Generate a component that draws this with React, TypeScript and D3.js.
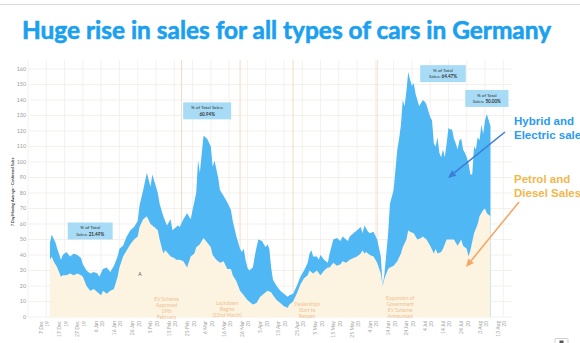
import React from "react";
import * as d3 from "d3";

// Total sales (top of blue stack) – 7 day moving average
const totalDates = [
  "2019-12-09","2019-12-10","2019-12-12","2019-12-13","2019-12-15","2019-12-16","2019-12-18","2019-12-20","2019-12-22","2019-12-24",
  "2019-12-26","2019-12-27","2019-12-29","2019-12-31","2020-01-02","2020-01-04","2020-01-05","2020-01-07","2020-01-09","2020-01-11",
  "2020-01-13","2020-01-15","2020-01-16","2020-01-18","2020-01-20","2020-01-22","2020-01-24","2020-01-26","2020-01-27","2020-01-29",
  "2020-01-31","2020-02-02","2020-02-03","2020-02-06","2020-02-07","2020-02-09","2020-02-11","2020-02-13","2020-02-14","2020-02-17",
  "2020-02-18","2020-02-20","2020-02-22","2020-02-24","2020-02-25","2020-02-27","2020-02-28","2020-02-29","2020-03-02","2020-03-04",
  "2020-03-06","2020-03-07","2020-03-08","2020-03-10","2020-03-11","2020-03-13","2020-03-15","2020-03-17","2020-03-18","2020-03-20",
  "2020-03-22","2020-03-23","2020-03-24","2020-03-25","2020-03-26","2020-03-27","2020-03-28","2020-03-29","2020-03-30","2020-03-31",
  "2020-04-01","2020-04-03","2020-04-04","2020-04-05","2020-04-06","2020-04-07","2020-04-08","2020-04-09","2020-04-11","2020-04-13",
  "2020-04-15","2020-04-17","2020-04-18","2020-04-20","2020-04-22","2020-04-24","2020-04-26","2020-04-28","2020-04-29","2020-04-30",
  "2020-05-01","2020-05-03","2020-05-04","2020-05-05","2020-05-07","2020-05-09","2020-05-10","2020-05-12","2020-05-14","2020-05-16",
  "2020-05-17","2020-05-20","2020-05-21","2020-05-23","2020-05-25","2020-05-27","2020-05-28","2020-05-29","2020-05-31","2020-06-01",
  "2020-06-03","2020-06-05","2020-06-07","2020-06-08","2020-06-09","2020-06-11","2020-06-12","2020-06-14","2020-06-16","2020-06-17",
  "2020-06-18","2020-06-19","2020-06-20","2020-06-21","2020-06-22","2020-06-23","2020-06-24","2020-06-25","2020-06-26","2020-06-27",
  "2020-06-28","2020-06-29","2020-06-30","2020-07-01","2020-07-02","2020-07-04","2020-07-05","2020-07-06","2020-07-07","2020-07-08",
  "2020-07-09","2020-07-10","2020-07-11","2020-07-12","2020-07-13","2020-07-14","2020-07-15","2020-07-16","2020-07-17","2020-07-18",
  "2020-07-19","2020-07-20","2020-07-21","2020-07-22","2020-07-23","2020-07-24","2020-07-25","2020-07-26","2020-07-27","2020-07-28",
  "2020-07-29","2020-07-30","2020-07-31","2020-08-01","2020-08-02","2020-08-03","2020-08-04","2020-08-05","2020-08-06"
];
const totalValues = [
  48,53,48,44,37,40,42,39,41,40,
  38,34,30,28,29,28,26,31,32,29,
  33,39,44,46,52,56,58,62,72,82,
  93,84,92,80,73,65,59,63,56,59,
  58,63,67,63,69,80,101,93,117,115,
  110,97,101,90,82,78,74,69,62,52,
  44,42,44,37,32,30,31,32,39,45,
  50,49,47,45,47,44,32,24,20,17,
  15,13,14,15,20,26,30,35,41,43,
  39,39,37,40,37,35,41,50,51,49,
  52,49,52,54,56,58,54,59,55,54,
  55,50,39,20,28,54,73,82,108,115,
  124,140,136,146,158,153,149,151,144,140,
  136,138,140,139,137,129,127,112,110,116,
  106,103,108,103,112,122,121,121,115,112,
  108,114,115,108,106,103,99,92,92,110,
  108,116,114,124,118,127,131,127,123
];

// Petrol and diesel sales (tan area)
const petrolDates = [
  "2019-12-09","2019-12-10","2019-12-11","2019-12-13","2019-12-15","2019-12-16","2019-12-18","2019-12-20","2019-12-22","2019-12-24",
  "2019-12-26","2019-12-27","2019-12-29","2019-12-31","2020-01-02","2020-01-04","2020-01-06","2020-01-07","2020-01-09","2020-01-11",
  "2020-01-13","2020-01-15","2020-01-16","2020-01-18","2020-01-20","2020-01-22","2020-01-24","2020-01-26","2020-01-27","2020-01-29",
  "2020-01-31","2020-02-02","2020-02-04","2020-02-06","2020-02-07","2020-02-09","2020-02-10","2020-02-11","2020-02-13","2020-02-15",
  "2020-02-16","2020-02-18","2020-02-20","2020-02-22","2020-02-24","2020-02-26","2020-02-27","2020-02-29","2020-03-02","2020-03-04",
  "2020-03-06","2020-03-07","2020-03-09","2020-03-11","2020-03-13","2020-03-15","2020-03-17","2020-03-18","2020-03-20","2020-03-22",
  "2020-03-24","2020-03-26","2020-03-28","2020-03-29","2020-03-31","2020-04-02","2020-04-04","2020-04-06","2020-04-08","2020-04-09",
  "2020-04-11","2020-04-13","2020-04-15","2020-04-17","2020-04-18","2020-04-20","2020-04-22","2020-04-24","2020-04-26","2020-04-28",
  "2020-04-29","2020-05-01","2020-05-03","2020-05-05","2020-05-07","2020-05-09","2020-05-10","2020-05-12","2020-05-14","2020-05-16",
  "2020-05-17","2020-05-19","2020-05-21","2020-05-23","2020-05-25","2020-05-27","2020-05-28","2020-05-29","2020-05-30","2020-06-01",
  "2020-06-03","2020-06-05","2020-06-07","2020-06-08","2020-06-09","2020-06-11","2020-06-12","2020-06-14","2020-06-16","2020-06-18",
  "2020-06-19","2020-06-21","2020-06-22","2020-06-23","2020-06-25","2020-06-27","2020-06-29","2020-06-30","2020-07-02","2020-07-04",
  "2020-07-06","2020-07-07","2020-07-08","2020-07-10","2020-07-11","2020-07-13","2020-07-15","2020-07-17","2020-07-19","2020-07-21",
  "2020-07-22","2020-07-24","2020-07-25","2020-07-26","2020-07-28","2020-07-30","2020-07-31","2020-08-02","2020-08-03","2020-08-04",
  "2020-08-06"
];
const petrolValues = [
  37,39,36,32,26,27,27,28,27,28,
  27,26,20,17,18,16,14,17,15,17,
  18,26,32,39,43,47,50,52,58,63,
  65,60,58,56,50,41,43,42,39,38,
  37,37,36,32,39,41,45,47,51,48,
  45,40,37,35,36,31,31,27,23,17,
  14,11,9,8,9,13,15,17,16,14,
  11,9,7,6,8,10,15,21,25,27,
  30,28,30,27,30,32,32,35,33,34,
  36,35,37,38,39,41,43,41,42,40,
  39,35,28,20,25,31,32,33,36,41,
  45,50,56,55,54,50,51,52,50,46,
  41,44,41,42,44,50,50,50,46,50,
  46,44,39,43,54,60,65,69,70,67,
  65
];

const tickDates = [
  "2019-12-07","2019-12-17","2019-12-27","2020-01-06","2020-01-16","2020-01-26","2020-02-05","2020-02-15","2020-02-25",
  "2020-03-06","2020-03-16","2020-03-26","2020-04-05","2020-04-15","2020-04-25","2020-05-05","2020-05-15","2020-05-25",
  "2020-06-04","2020-06-14","2020-06-24","2020-07-04","2020-07-14","2020-07-24","2020-08-03","2020-08-13"
];
const yTicks = [0, 10, 20, 30, 40, 50, 60, 70, 80, 90, 100, 110, 120, 130, 140, 150, 160];

const eventDates = ["2020-02-19", "2020-03-22", "2020-04-20", "2020-06-05"];
const eventLabels = [
  ["EV Scheme", "Approved", "19th", "February"],
  ["Lockdown", "Begins", "(22nd March)"],
  ["Dealerships", "Start to", "Reopen"],
  ["Expansion of", "Government", "EV Scheme", "Announced"],
];

const calloutLabels = [
  ["% of Total", "Sales: ", "21.49%"],
  ["% of Total Sales:", "", "60.94%"],
  ["% of Total", "Sales: ", "64.47%"],
  ["% of Total", "Sales: ", "50.00%"],
];
const calloutDates = ["2019-12-31", "2020-03-04", "2020-07-11", "2020-08-04"];
const calloutValues = [55.5, 133, 157, 141];

const parse = d3.utcParse("%Y-%m-%d");

export default function App() {
  const W = 580, H = 343;
  const x = d3.scaleUtc().domain([parse("2019-12-07")!, parse("2020-08-13")!]).range([46.3, 503.3]);
  const y = d3.scaleLinear().domain([0, 160]).range([317, 69]);

  const total = totalDates.map((d, i) => [parse(d)!, totalValues[i]] as [Date, number]);
  const petrol = petrolDates.map((d, i) => [parse(d)!, petrolValues[i]] as [Date, number]);

  const area = d3.area<[Date, number]>()
    .x((d) => x(d[0]))
    .y0(y(0))
    .y1((d) => y(d[1]));

  const plotLeft = x(d3.utcDay.offset(parse("2019-12-07")!, -10));
  const plotRight = 512;
  const fmtDay = d3.utcFormat("%-d %b");
  const fmtYr = d3.utcFormat("%y");

  const font = "Lato, 'Open Sans', sans-serif";
  const gridColor = "#f1ede8";
  const eventColor = "#f2dcc3";
  const eventText = "#efc291";

  const arrow = (x1: number, y1: number, x2: number, y2: number, color: string) => {
    const a = Math.atan2(y2 - y1, x2 - x1);
    const L = 8, Wd = 3.6;
    const bx = x2 - L * Math.cos(a), by = y2 - L * Math.sin(a);
    const p = [
      [x2, y2],
      [bx + Wd * Math.sin(a), by - Wd * Math.cos(a)],
      [bx - Wd * Math.sin(a), by + Wd * Math.cos(a)],
    ];
    return (
      <g>
        <line x1={x1} y1={y1} x2={bx} y2={by} stroke={color} strokeWidth={1.6} />
        <polygon points={p.map((q) => q.join(",")).join(" ")} fill={color} />
      </g>
    );
  };

  return (
    <svg width={W} height={H} style={{ position: "absolute", left: 0, top: 0, background: "#fff" }} fontFamily={font}>
      <rect x={0} y={0} width={W} height={H} fill="#fff" />
      <line x1={0} x2={W} y1={4.5} y2={4.5} stroke="#dcdcdc" strokeWidth={1} />

      <text x={286.5} y={39} textAnchor="middle" fontSize={24} fontWeight={700} fill="#1ba0f0"
        stroke="#1ba0f0" strokeWidth={0.6} strokeLinejoin="round"
        textLength={529} lengthAdjust="spacingAndGlyphs" fontFamily="Lato, sans-serif">
        Huge rise in sales for all types of cars in Germany
      </text>

      {/* grid */}
      {yTicks.map((t) => (
        <line key={"h" + t} x1={plotLeft} x2={plotRight} y1={y(t)} y2={y(t)} stroke={gridColor} strokeWidth={0.8} />
      ))}
      {[d3.utcDay.offset(parse("2019-12-07")!, -10), ...tickDates.map((d) => parse(d)!)].map((d, i) => (
        <line key={"v" + i} x1={x(d)} x2={x(d)} y1={60} y2={y(0)} stroke={gridColor} strokeWidth={0.8} />
      ))}

      {/* event lines */}
      {eventDates.map((d) => (
        <line key={d} x1={x(parse(d)!)} x2={x(parse(d)!)} y1={60} y2={y(0)} stroke={eventColor} strokeWidth={1} />
      ))}

      {/* areas */}
      <path d={area(total)!} fill="#4fb7f4" />
      <path d={area(petrol)!} fill="#fdf3e1" />

      {/* event labels */}
      {eventLabels.map((lines, i) => {
        const ex = x(parse(eventDates[i])!);
        const cx = [ex - 15, ex - 13, ex + 14, ex + 23][i];
        const top = [299, 303, 304, 298][i];
        return (
          <text key={"el" + i} textAnchor="middle" fontSize={5} fill={eventText}>
            {lines.map((l, j) => (
              <tspan key={j} x={cx} y={top + 1.5 + j * 6}>{l}</tspan>
            ))}
          </text>
        );
      })}

      <text x={140} y={276} textAnchor="middle" fontSize={5} fill="#555">A</text>

      {/* y axis */}
      {yTicks.map((t) => (
        <text key={"yt" + t} x={26} y={y(t) + 1.8} textAnchor="end" fontSize={5.3} fill="#9a9a9a">{t}</text>
      ))}
      <text transform={`translate(13.5,${192}) rotate(-90)`} textAnchor="middle" fontSize={3.8} fill="#333" fontWeight={700}>
        7 Day Moving Average - Confirmed Sales
      </text>

      {/* x axis */}
      {tickDates.map((d) => {
        const px = x(parse(d)!);
        return (
          <text key={d} transform={`translate(${px - 3.5},321) rotate(-90)`} textAnchor="end" fontSize={5} fill="#a0a0a0">
            <tspan x={0} y={0}>{fmtDay(parse(d)!)}</tspan>
            <tspan x={0} y={6.5}>{fmtYr(parse(d)!)}</tspan>
          </text>
        );
      })}

      {/* callouts */}
      {calloutLabels.map((c, i) => {
        const cx = x(parse(calloutDates[i])!);
        const cy = y(calloutValues[i]);
        const w = [45, 48, 45.6, 43.3][i];
        const h = 17;
        return (
          <g key={"c" + i}>
            <rect x={cx - w / 2} y={cy - h / 2} width={w} height={h} fill="#a8dcf6" />
            <text textAnchor="middle" fontSize={4.6} fill="#333">
              <tspan x={cx} y={cy - 1.6}>{c[0]}</tspan>
              <tspan x={cx} y={cy + 4.8}>{c[1]}<tspan fontWeight={700}>{c[2]}</tspan></tspan>
            </text>
          </g>
        );
      })}

      {/* side labels */}
      <text fontSize={11.5} fontWeight={700} fill="#2a9cf0" fontFamily="'Liberation Sans', Arial, sans-serif">
        <tspan x={514} y={124.5}>Hybrid and</tspan>
        <tspan x={514} y={138.5}>Electric sales</tspan>
      </text>
      <text fontSize={11.5} fontWeight={700} fill="#f3b74c" fontFamily="'Liberation Sans', Arial, sans-serif">
        <tspan x={514} y={182.5}>Petrol and</tspan>
        <tspan x={514} y={197}>Diesel Sales</tspan>
      </text>
      {arrow(505, 132, 448, 178, "#3b7fd8")}
      {arrow(519, 202, 466, 267, "#f5a766")}

      <rect x={555} y={338.5} width={13} height={6} rx={1} fill="#fff" stroke="#c4c4c4" strokeWidth={0.8} />
      <rect x={559.5} y={340.5} width={4} height={3} fill="#555" />
    </svg>
  );
}
